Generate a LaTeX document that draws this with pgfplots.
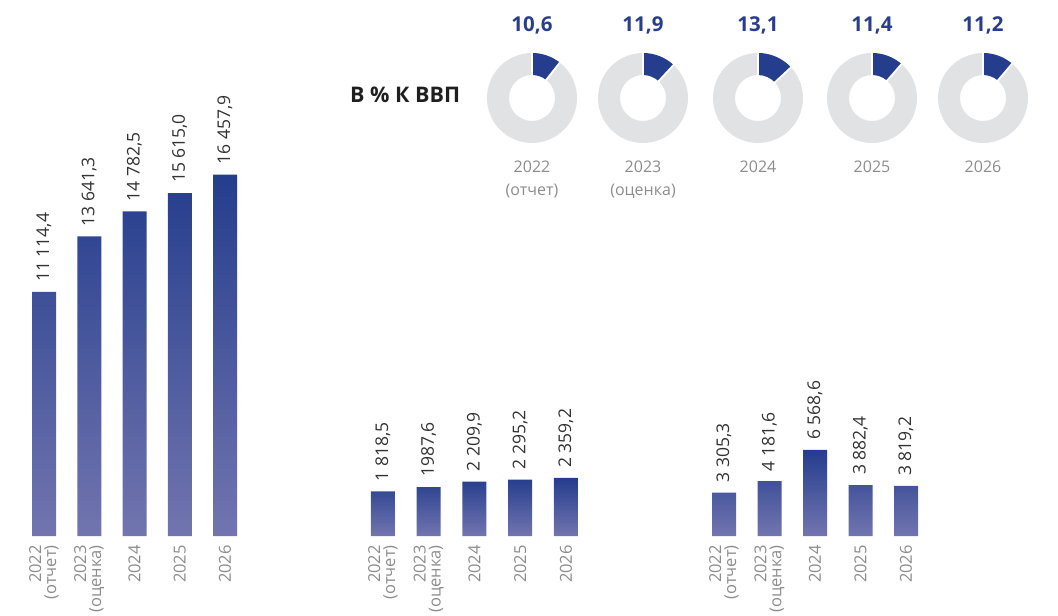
\documentclass[border=0pt]{standalone}
\usepackage{pgfplots}
\pgfplotsset{compat=1.18}
\usepackage{fontspec}
\setmainfont{Open Sans}
\definecolor{barTop}{RGB}{36,61,141}
\definecolor{barBot}{RGB}{114,117,175}
\definecolor{donutBlue}{RGB}{36,61,141}
\definecolor{ringGray}{RGB}{225,226,228}
\definecolor{tickGray}{RGB}{140,140,140}
\definecolor{valText}{RGB}{50,50,50}
\definecolor{valBlue}{RGB}{40,62,140}
\pgfplotsset{
  grp/.style={
    anchor=south west, enlargelimits=false,
    xmin=-0.5, xmax=4.5, ymin=0,
    axis line style={draw=none},
    ytick=\empty, xtick={0,1,2,3,4},
    major tick length=0pt,
    xticklabels={{2022\\(отчет)},{2023\\(оценка)},2024,2025,2026},
    xticklabel style={rotate=90, anchor=east, align=right, inner sep=0pt,
      font=\fontsize{16.5}{15}\selectfont, text=tickGray},
    xticklabel shift=9pt,
    clip=false,
    nodes near coords,
    point meta=explicit symbolic,
    every node near coord/.append style={rotate=90, anchor=west,
      font=\fontsize{17.5}{17}\selectfont, text=valText, inner sep=10pt},
  },
  barst/.style={ybar, bar width=24pt, bar shift=0pt, draw=none,
    top color=barTop, bottom color=barBot},
}
\begin{document}
\begin{tikzpicture}[x=1pt,y=1pt]
\path[use as bounding box] (0,0) rectangle (1058,616);

\begin{axis}[grp, at={(21.4pt,80pt)}, x=45.25pt, y=0.02195pt, ymax=17000]
\addplot[barst] coordinates {(0,11114.4) [{11 114,4}] (1,13641.3) [{13 641,3}] (2,14782.5) [{14 782,5}] (3,15615.0) [{15 615,0}] (4,16457.9) [{16 457,9}]};
\end{axis}

\begin{axis}[grp, at={(360.1pt,80pt)}, x=45.75pt, y=0.0246pt, ymax=2500]
\addplot[barst] coordinates {(0,1818.5) [{1 818,5}] (1,1987.6) [{1987,6}] (2,2209.9) [{2 209,9}] (3,2295.2) [{2 295,2}] (4,2359.2) [{2 359,2}]};
\end{axis}

\begin{axis}[grp, at={(701.25pt,80pt)}, x=45.5pt, y=0.0131pt, ymax=7000]
\addplot[barst] coordinates {(0,3305.3) [{3 305,3}] (1,4181.6) [{4 181,6}] (2,6568.6) [{6 568,6}] (3,3882.4) [{3 882,4}] (4,3819.2) [{3 819,2}]};
\end{axis}

\node[anchor=base west, inner sep=0pt, font=\fontsize{21.5}{21}\selectfont\bfseries, text=black!88] at (350,513) {В \% К ВВП};

\foreach \cx/\v/\lab/\ya/\yb in {532/10.6/{10,6}/2022/(отчет), 643/11.9/{11,9}/2023/(оценка), 758/13.1/{13,1}/2024/{}, 872/11.4/{11,4}/2025/{}, 983/11.2/{11,2}/2026/{}}{
  \fill[ringGray, even odd rule] (\cx,518) circle[radius=45] (\cx,518) circle[radius=23];
  \pgfmathsetmacro\ea{90-3.6*\v}
  \fill[donutBlue] ([shift={(\cx,518)}]90:45) arc[start angle=90, end angle=\ea, radius=45] -- ([shift={(\cx,518)}]\ea:23) arc[start angle=\ea, end angle=90, radius=23] -- cycle;
  \draw[white, line width=1.8pt] ([shift={(\cx,518)}]90:21) -- ([shift={(\cx,518)}]90:47);
  \draw[white, line width=1.8pt] ([shift={(\cx,518)}]\ea:21) -- ([shift={(\cx,518)}]\ea:47);
  \node[anchor=base, inner sep=0pt, font=\fontsize{20.5}{21}\selectfont\bfseries, text=valBlue] at (\cx,584) {\lab};
  \node[anchor=base, inner sep=0pt, font=\fontsize{16}{16}\selectfont, text=tickGray] at (\cx,443) {\ya};
  \node[anchor=base, inner sep=0pt, font=\fontsize{16}{16}\selectfont, text=tickGray] at (\cx,420) {\yb};
}
\end{tikzpicture}
\end{document}
